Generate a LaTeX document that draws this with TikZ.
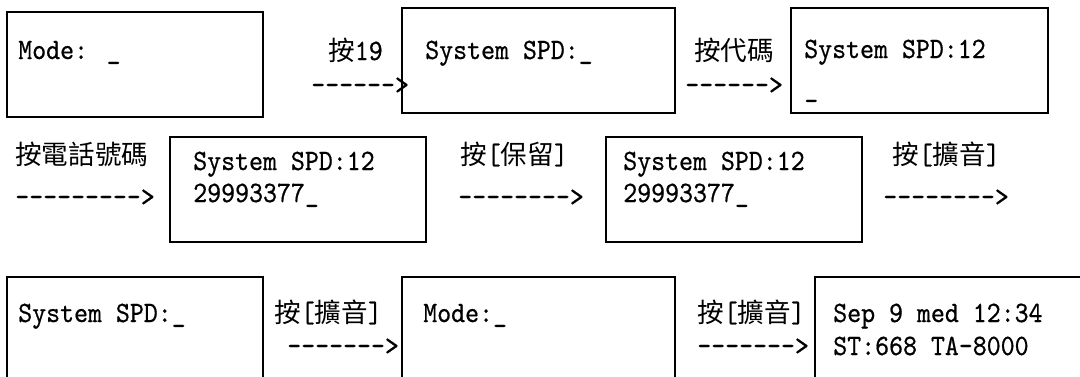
\documentclass[tikz,border=0pt]{standalone}
\usepackage{fontspec}
\newfontfamily\cjk{Noto Sans CJK TC}[Scale=0.9]
\newfontfamily\lcd{lmmono10-regular.otf}[FakeStretch=0.9, FakeBold=0.6]

\begin{document}
\begin{tikzpicture}[
    x=0.025cm, y=-0.025cm,
    screen/.style={draw, line width=1.4pt, anchor=north west, inner sep=0pt, outer sep=0pt, minimum height=2.625cm},
    txt/.style={anchor=base west, inner sep=0pt, font=\lcd\fontsize{21}{25}\selectfont}
]
    \useasboundingbox (0,0) rectangle (1080,376);
    \clip (0,0) rectangle (1080,376);

    % Display screens
    \node[screen, minimum width=6.4cm] (mode1) at (7,12) {};
    \node[screen, minimum width=6.825cm] (spd1) at (402,8) {};
    \node[screen, minimum width=6.425cm] (spd2) at (791,8) {};
    \node[screen, minimum width=6.4cm] (tel1) at (170,137) {};
    \node[screen, minimum width=6.4cm] (tel2) at (606,137) {};
    \node[screen, minimum width=6.4cm] (spd3) at (7,277) {};
    \node[screen, minimum width=6.825cm] (mode2) at (402,277) {};
    \node[screen, minimum width=6.825cm] (clock) at (815,277) {};

    % Screen contents
    \node[txt] (mode1a) at (18,59) {Mode: \_};
    \node[txt] (spd1a) at (425,59) {System SPD:\_};
    \node[txt] (spd2a) at (804,58) {System SPD:12};
    \node[txt] (spd2b) at (804,97) {\_};
    \node[txt] (tel1a) at (193,170) {System SPD:12};
    \node[txt] (tel1b) at (193,202) {29993377\_};
    \node[txt] (tel2a) at (623,170) {System SPD:12};
    \node[txt] (tel2b) at (623,202) {29993377\_};
    \node[txt] (spd3a) at (18,322) {System SPD:\_};
    \node[txt] (mode2a) at (423,322) {Mode:\_};
    \node[txt] (clocka) at (833,322) {Sep 9 med 12:34};
    \node[txt] (clockb) at (833,355) {ST:668 TA-8000};

    % Key presses
    \node[txt] (key1) at (328,60) {{\cjk 按}19};
    \node[txt] (arr1) at (311,94) {------>};
    \node[txt] (key2) at (694,60) {\cjk 按代碼};
    \node[txt] (arr2) at (685,94) {------>};
    \node[txt] (key3) at (15,164) {\cjk 按電話號碼};
    \node[txt] (arr3) at (15,206) {--------->};
    \node[txt] (key4) at (460,164) {{\cjk 按}[{\cjk 保留}]};
    \node[txt] (arr4) at (458,206) {-------->};
    \node[txt] (key5) at (892,164) {{\cjk 按}[{\cjk 擴音}]};
    \node[txt] (arr5) at (883,206) {-------->};
    \node[txt] (key6) at (274,322) {{\cjk 按}[{\cjk 擴音}]};
    \node[txt] (arr6) at (287,355) {------->};
    \node[txt] (key7) at (697,322) {{\cjk 按}[{\cjk 擴音}]};
    \node[txt] (arr7) at (697,355) {------->};
\end{tikzpicture}
\end{document}
